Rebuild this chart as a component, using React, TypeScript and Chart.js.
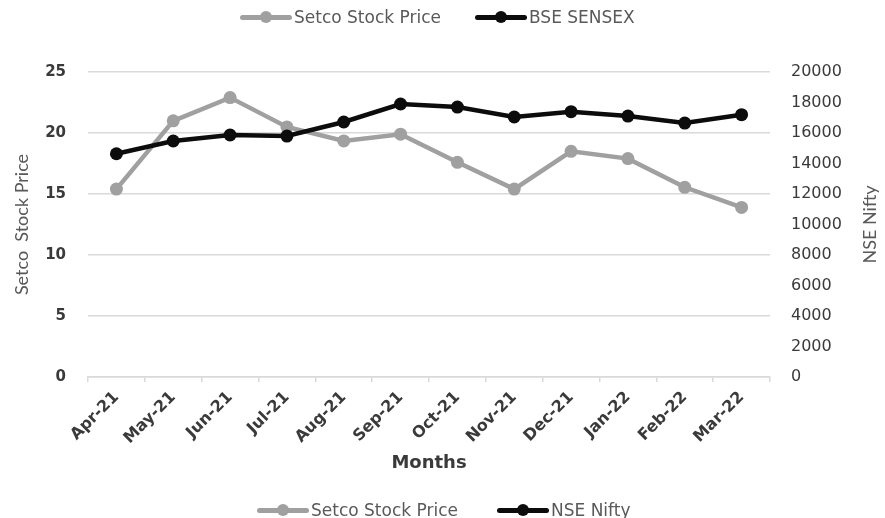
import React, { useEffect, useRef } from 'react';
import { Chart, registerables } from 'chart.js';

Chart.register(...registerables);

const months = ['Apr-21', 'May-21', 'Jun-21', 'Jul-21', 'Aug-21', 'Sep-21', 'Oct-21', 'Nov-21', 'Dec-21', 'Jan-22', 'Feb-22', 'Mar-22'];
const setcoPrice = [15.4, 21.0, 22.9, 20.5, 19.35, 19.9, 17.6, 15.4, 18.5, 17.9, 15.55, 13.9];
const niftyIndex = [14640, 15475, 15870, 15800, 16720, 17900, 17700, 17050, 17400, 17110, 16650, 17200];
const legendTop = ['Setco Stock Price', 'BSE SENSEX'];
const legendBottom = ['Setco Stock Price', 'NSE Nifty'];
const leftTitle = 'Setco  Stock Price';
const rightTitle = 'NSE Nifty';
const xTitle = 'Months';

const GRAY = '#a0a0a0';
const BLACK = '#0c0c0c';
const TICK = '#3a3a3a';
const TITLE = '#595959';
const GRID = '#d9d9d9';

const rightTitlePlugin = {
  id: 'rightTitle',
  afterDraw(chart: any) {
    const ctx = chart.ctx;
    const area = chart.chartArea;
    ctx.save();
    ctx.translate(870, (area.top + area.bottom) / 2);
    ctx.rotate(-Math.PI / 2);
    ctx.font = '18px Lato';
    ctx.fillStyle = TITLE;
    ctx.textAlign = 'center';
    ctx.textBaseline = 'middle';
    ctx.fillText(rightTitle, 0, 0);
    ctx.restore();
  },
};

function LegendItem({ color, label, left, cy }: { color: string; label: string; left: number; cy: number }) {
  return (
    <div style={{ position: 'absolute', left, top: cy - 12, height: 24, display: 'flex', alignItems: 'center', whiteSpace: 'nowrap' }}>
      <div style={{ position: 'relative', width: 52, height: 24 }}>
        <div style={{ position: 'absolute', left: 0, right: 0, top: 9.5, height: 5, borderRadius: 2.5, background: color }} />
        <div style={{ position: 'absolute', left: 20, top: 6, width: 12, height: 12, borderRadius: '50%', background: color }} />
      </div>
      <span style={{ marginLeft: 2, font: '17px "DejaVu Sans"', color: TITLE, lineHeight: '24px' }}>{label}</span>
    </div>
  );
}

export default function App() {
  const canvasRef = useRef<HTMLCanvasElement | null>(null);

  useEffect(() => {
    document.body.style.margin = '0';
    const canvas = canvasRef.current;
    if (!canvas) return;
    const chart = new Chart(canvas, {
      type: 'line',
      data: {
        labels: months,
        datasets: [
          {
            label: legendBottom[0],
            data: setcoPrice,
            yAxisID: 'y',
            borderColor: GRAY,
            backgroundColor: GRAY,
            borderWidth: 4.5,
            pointRadius: 6.5,
            pointBackgroundColor: GRAY,
            pointBorderColor: GRAY,
            pointBorderWidth: 0,
            tension: 0,
            order: 1,
          },
          {
            label: legendBottom[1],
            data: niftyIndex,
            yAxisID: 'y1',
            borderColor: BLACK,
            backgroundColor: BLACK,
            borderWidth: 4.5,
            pointRadius: 6.5,
            pointBackgroundColor: BLACK,
            pointBorderColor: BLACK,
            pointBorderWidth: 0,
            tension: 0,
            order: 0,
          },
        ],
      },
      options: {
        responsive: false,
        animation: false,
        devicePixelRatio: 1,
        layout: { padding: { top: 72, left: 0, right: 0, bottom: 0 } },
        plugins: {
          legend: { display: false },
          tooltip: { enabled: false },
        },
        scales: {
          x: {
            type: 'category',
            offset: true,
            grid: { offset: true, drawOnChartArea: false, drawTicks: true, tickLength: 5, color: GRID, lineWidth: 1.5 },
            border: { display: true, color: GRID, width: 1.5 },
            ticks: {
              minRotation: 45,
              maxRotation: 45,
              autoSkip: false,
              padding: 6,
              color: TICK,
              font: { family: 'DejaVu Sans', weight: 'bold', size: 16 },
            },
            title: {
              display: true,
              text: xTitle,
              color: TICK,
              font: { family: 'DejaVu Sans', weight: 'bold', size: 18 },
              padding: { top: 0, bottom: 44 },
            },
            afterFit: (s: any) => { s.height = 141; },
          },
          y: {
            position: 'left',
            min: 0,
            max: 25,
            ticks: {
              stepSize: 5,
              padding: 22,
              color: TICK,
              font: { family: 'DejaVu Sans', weight: 'bold', size: 15 },
              callback: (v: any) => String(v),
            },
            grid: { color: GRID, lineWidth: 1.5, drawTicks: false },
            border: { display: false },
            title: {
              display: true,
              text: leftTitle,
              color: TITLE,
              font: { family: 'Lato', size: 18 },
              padding: { top: 11, bottom: 0 },
            },
            afterFit: (s: any) => { s.width = 88; },
          },
          y1: {
            position: 'right',
            min: 0,
            max: 20000,
            ticks: {
              stepSize: 2000,
              padding: 21,
              color: TICK,
              font: { family: 'DejaVu Sans', size: 16 },
              callback: (v: any) => String(v),
            },
            grid: { display: false, drawTicks: false },
            border: { display: false },
            afterFit: (s: any) => { s.width = 115; },
          },
        },
      },
      plugins: [rightTitlePlugin],
    } as any);
    return () => chart.destroy();
  }, []);

  return (
    <div style={{ position: 'relative', width: 885, height: 518, overflow: 'hidden', background: '#ffffff' }}>
      <canvas ref={canvasRef} width={885} height={518} style={{ display: 'block', width: 885, height: 518 }} />
      <LegendItem color={GRAY} label={legendTop[0]} left={240} cy={17} />
      <LegendItem color={BLACK} label={legendTop[1]} left={475} cy={17} />
      <LegendItem color={GRAY} label={legendBottom[0]} left={257} cy={510} />
      <LegendItem color={BLACK} label={legendBottom[1]} left={497} cy={510} />
    </div>
  );
}
